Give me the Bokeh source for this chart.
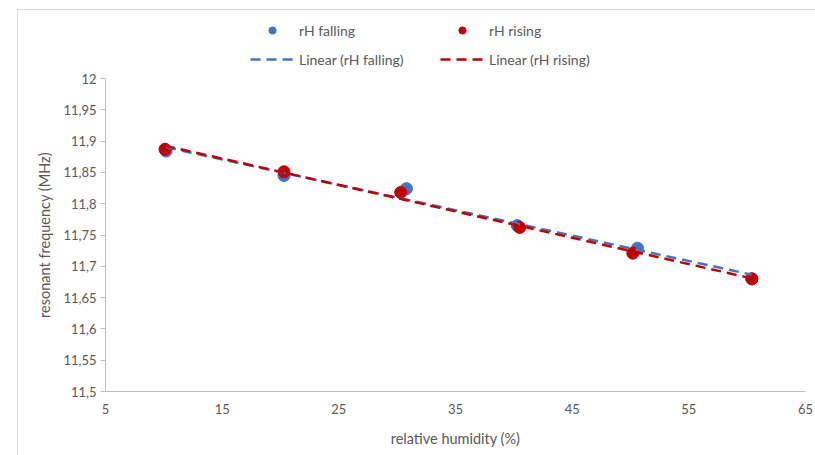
import numpy as np
from bokeh.plotting import figure
from bokeh.layouts import column
from bokeh.models import Legend, LegendItem, FixedTicker, Range1d
from bokeh.embed import file_html
from bokeh.resources import INLINE

# Data
rh_falling_x = [10.2, 20.3, 30.8, 40.3, 50.6, 60.4]
rh_falling_y = [11.884, 11.845, 11.824, 11.765, 11.729, 11.680]
rh_rising_x = [10.1, 20.3, 30.3, 40.5, 50.2, 60.4]
rh_rising_y = [11.887, 11.851, 11.818, 11.762, 11.721, 11.680]

x_ticks = [5, 15, 25, 35, 45, 55, 65]
y_ticks = [11.5, 11.55, 11.6, 11.65, 11.7, 11.75, 11.8, 11.85, 11.9, 11.95, 12.0]
y_tick_labels = ["11,5", "11,55", "11,6", "11,65", "11,7", "11,75", "11,8", "11,85", "11,9", "11,95", "12"]

BLUE = "#4472C4"
RED = "#C00000"
GREY_TXT = "#595959"
AXIS = "#BFBFBF"
FONT = "Lato"
DASH = "10 6"

# linear trendlines (least squares fit of each series)
xf = np.array(rh_falling_x); yf = np.array(rh_falling_y)
xr = np.array(rh_rising_x); yr = np.array(rh_rising_y)
mf, bf = np.polyfit(xf, yf, 1)
mr, br = np.polyfit(xr, yr, 1)
tfx = [xf.min(), xf.max()]
trx = [xr.min(), xr.max()]
tfy = [mf * v + bf for v in tfx]
try_ = [mr * v + br for v in trx]

# ---------- main chart ----------
p = figure(width=797, height=385, output_backend="svg", toolbar_location=None,
           x_range=Range1d(5, 65), y_range=Range1d(11.5, 12.0),
           min_border_left=87, min_border_right=10, min_border_top=8, min_border_bottom=64)
p.outline_line_color = None
p.xgrid.visible = False
p.ygrid.visible = False

p.scatter(rh_falling_x, rh_falling_y, size=12, color=BLUE)
p.scatter(rh_rising_x, rh_rising_y, size=12, color=RED)
p.line(tfx, tfy, line_color=BLUE, line_width=2.5, line_dash=DASH)
p.line(trx, try_, line_color=RED, line_width=2.5, line_dash=DASH)

p.xaxis.ticker = FixedTicker(ticks=x_ticks)
p.yaxis.ticker = FixedTicker(ticks=y_ticks)
p.yaxis.major_label_overrides = {t: l for t, l in zip(y_ticks, y_tick_labels)}

for ax in (p.xaxis[0], p.yaxis[0]):
    ax.axis_line_color = AXIS
    ax.axis_line_width = 1
    ax.major_tick_line_color = AXIS
    ax.minor_tick_line_color = None
    ax.major_label_text_color = GREY_TXT
    ax.major_label_text_font = FONT
    ax.major_label_text_font_size = "13px"
    ax.axis_label_text_color = GREY_TXT
    ax.axis_label_text_font = FONT
    ax.axis_label_text_font_size = "14.5px"
    ax.axis_label_text_font_style = "normal"

p.xaxis.major_tick_out = 0
p.xaxis.major_tick_in = 0
p.xaxis.major_label_standoff = 12
p.xaxis.axis_label = "relative humidity (%)"
p.xaxis.axis_label_standoff = 13
p.yaxis.major_tick_out = 5
p.yaxis.major_tick_in = 0
p.yaxis.major_label_standoff = 4
p.yaxis.axis_label = "resonant frequency (MHz)"
p.yaxis.axis_label_standoff = 7

# ---------- legend strip (its data sit outside the visible range) ----------
lg = figure(width=797, height=60, output_backend="svg", toolbar_location=None,
            x_axis_location=None, y_axis_location=None,
            x_range=Range1d(5, 65), y_range=Range1d(0, 1),
            min_border=0, min_border_left=0, min_border_right=0,
            min_border_top=0, min_border_bottom=0)
lg.outline_line_color = None
lg.xgrid.visible = False
lg.ygrid.visible = False
kf = lg.scatter(rh_falling_x, rh_falling_y, size=12, color=BLUE)
kr = lg.scatter(rh_rising_x, rh_rising_y, size=12, color=RED)
kfl = lg.line(tfx, tfy, line_color=BLUE, line_width=2.5, line_dash=DASH)
krl = lg.line(trx, try_, line_color=RED, line_width=2.5, line_dash=DASH)


def style(leg):
    leg.orientation = "horizontal"
    leg.label_text_font = FONT
    leg.label_text_font_size = "14px"
    leg.label_text_color = GREY_TXT
    leg.glyph_width = 44
    leg.glyph_height = 18
    leg.label_height = 18
    leg.label_width = 132
    leg.label_standoff = 5
    leg.spacing = 9
    leg.padding = 0
    leg.margin = 0
    leg.border_line_color = None
    leg.background_fill_alpha = 0


legend_pts = Legend(items=[
    LegendItem(label="rH falling", renderers=[kf]),
    LegendItem(label="rH rising", renderers=[kr]),
])
style(legend_pts)
legend_pts.location = (145, 31)

legend_lin = Legend(items=[
    LegendItem(label="Linear (rH falling)", renderers=[kfl]),
    LegendItem(label="Linear (rH rising)", renderers=[krl]),
])
style(legend_lin)
legend_lin.location = (145, 2)

lg.add_layout(legend_pts)
lg.add_layout(legend_lin)

layout = column(lg, p, spacing=0)
layout.styles = {"margin-left": "17px", "margin-top": "9px",
                 "border-left": "1px solid #D9D9D9", "border-top": "1px solid #D9D9D9"}

open("out.html", "w").write(file_html(layout, INLINE))
